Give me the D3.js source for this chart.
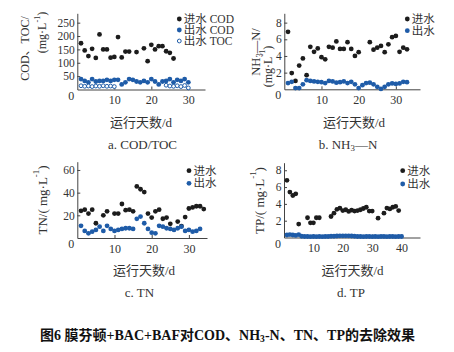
<!DOCTYPE html>
<html><head><meta charset="utf-8">
<script src="https://cdn.jsdelivr.net/npm/d3@7"></script>
<style>body{margin:0;background:#fff}svg{display:block}</style>
</head><body>
<script>
// ---------- data ----------
// a. COD / TOC
const codInDays  = [1,2,3,4,5,6,7,8,9,10,11,12,13,14,16,18,19,20,21,22,23,24,25,26];
const codIn      = [173,146,125,152,118,206,150,150,119,122,196,120,142,142,140,154,106,167,150,162,162,143,137,116];
const codOutDays = [1,2,3,4,5,6,7,8,9,10,11,12,13,14,15,16,17,18,19,20,21,22,23,24,25,26,27,28,29,30];
const codOut     = [39,32,27,39,30,32,32,36,32,36,36,19,27,39,36,30,27,32,27,39,30,19,30,32,39,27,36,32,39,27];
const tocOutDays = [1,2,3,4,5,6,7,8,9,10,24,25,26,27,28,29,30];
const tocOut     = [14,12,13,11,13,12,14,12,13,11,16,13,12,14,11,15,6];
// b. NH3-N
const nhInDays  = [1,2,3,4,5,6,7,8,9,10,11,12,13,14,15,16,17,18,19,20,23,24,25,26,27,28,29,30,31,32,33];
const nhIn      = [6.9,1.95,1.0,2.85,3.7,1.7,5.1,4.5,4.9,3.85,3.6,5.1,5.0,5.75,4.85,4.85,5.65,4.85,4.0,4.45,5.65,4.75,5.0,5.2,4.45,5.4,6.25,6.4,4.5,5.0,4.8];
const nhOutDays = [1,2,3,4,5,6,7,8,9,10,11,12,13,14,15,16,17,18,19,20,21,22,23,24,25,26,27,28,29,30,31,32,33];
const nhOut     = [0.75,0.9,0.15,0.15,0.6,1.1,1.0,0.95,0.9,0.85,0.75,1.0,0.95,0.8,0.85,0.95,0.75,0.9,0.6,0.15,0.5,0.75,0.8,0.6,0.3,0.05,0.3,0.6,0.7,0.65,0.7,0.9,0.85];
// c. TN
const tnInDays  = [1,2,3,4,5,7,8,10,11,12,13,14,15,16,17,18,19,20,21,22,23,24,25,27,28,29,30,31,32,33,34];
const tnIn      = [24,25,21.5,25,13,20,23.5,21.5,21.5,30,24.5,25,23.5,45.5,43,40.5,21.5,18,23.5,25,17,18,12.5,14.5,10.5,18.5,26,27,28,28,25.5];
const tnOutDays = [1,2,3,4,5,6,7,8,9,10,11,12,13,14,15,16,17,18,19,20,21,22,23,24,25,26,27,28,29,30,31,32,33];
const tnOut     = [10.7,6.2,4.1,5.6,7.1,10,6.2,10.7,8,6.2,7.1,8,8.6,8.6,8,16.9,18.9,13,8,4.7,4.1,10.7,10,8.6,8,7.1,8.6,10,6.2,7.1,5.6,6.2,8];
// d. TP
const tpInDays  = [1,2,3,4,5,8,9,10,11,12,16,17,18,19,20,21,22,23,24,25,26,27,28,29,30,32,34,35,36,37,38,39];
const tpIn      = [6.8,5.4,5.0,5.2,1.6,2.35,1.75,1.75,2.35,2.35,2.5,2.9,3.35,3.5,3.2,3.3,3.1,3.25,3.15,3.2,3.3,3.45,3.6,3.15,3.15,2.3,2.9,3.5,3.4,3.6,3.7,3.2];
const tpOutDays = [1,2,3,4,5,6,7,8,9,10,11,12,13,14,15,16,17,18,19,20,21,22,23,24,25,26,27,28,29,30,31,32,33,34,35,36,37,38,39,40];
const tpOut     = [0.3,0.35,0.3,0.25,0.35,0.15,0.12,0.12,0.1,0.12,0.1,0.12,0.1,0.12,0.12,0.15,0.15,0.18,0.2,0.2,0.2,0.2,0.18,0.15,0.12,0.12,0.1,0.12,0.12,0.1,0.12,0.1,0.12,0.12,0.1,0.12,0.12,0.1,0.12,0.12];

// tick labels
const xTicksABC = [10,20,30];
const xTicksD   = [10,20,30,40];
const yTicksA = [50,100,150,200,250];
const yTicksB = [2,4,6,8];
const yTicksC = [20,40,60];
const yTicksD = [2,4,6,8];

// legend labels
const legendA = ["进水 COD","出水 COD","出水 TOC"];
const legendIO = ["进水","出水"];

// ---------- drawing ----------
const FONT = "'Liberation Serif','Noto Sans CJK SC',serif";
const BLACK = "#1c1c1c", BLUE = "#1f5ca8", AX = "#444", TXT = "#333";
const svg = d3.select("body").append("svg").attr("width",454).attr("height",352)
  .style("font-family",FONT);

function rich(sel, segs, size){
  let shift = 0;
  segs.forEach(([t,m])=>{
    const ts = sel.append("tspan").text(t);
    let target = m==="sup" ? -0.45 : m==="sub" ? 0.3 : 0;
    const d = target - shift;
    if (d!==0) ts.attr("dy", (d*size).toFixed(2));
    if (m) ts.attr("font-size", size*0.68);
    shift = target;
  });
}

function panel(cfg){
  const x = d3.scaleLinear().domain(cfg.xd).range(cfg.xr);
  const y = d3.scaleLinear().domain(cfg.yd).range(cfg.yr);
  const gx = svg.append("g").attr("transform",`translate(0,${cfg.yr[0]})`)
    .call(d3.axisBottom(x).tickValues(cfg.xt).tickSizeInner(-3).tickSizeOuter(0).tickPadding(6).tickFormat(d3.format("d")));
  gx.attr("font-family",FONT).attr("font-size",12);
  const gy = svg.append("g").attr("transform",`translate(${cfg.xr[0]},0)`)
    .call(d3.axisLeft(y).tickValues(cfg.yt).tickSizeInner(-3).tickSizeOuter(0).tickPadding(2.5).tickFormat(d3.format("d")));
  gy.attr("font-family",FONT).attr("font-size",11.5);
  [gx,gy].forEach(g=>{
    g.select(".domain").attr("stroke",AX).attr("stroke-width",1);
    g.selectAll(".tick line").attr("stroke",AX);
    g.selectAll(".tick text").attr("fill",TXT);
  });
  svg.append("text").attr("x",cfg.xr[0]-3).attr("y",cfg.yr[0]+10).attr("text-anchor","end")
    .attr("font-size",12).attr("fill",TXT).text("0");
  cfg.series.forEach(s=>{
    svg.append("g").selectAll("circle").data(s.days.map((d,i)=>[d,s.vals[i]])).join("circle")
      .attr("cx",d=>x(d[0])).attr("cy",d=>y(d[1])).attr("r",s.hollow?1.9:2.4)
      .attr("fill",s.hollow?"#fff":s.color)
      .attr("stroke",s.hollow?s.color:"none").attr("stroke-width",1);
  });
  cfg.legend.items.forEach((it,i)=>{
    const yy = cfg.legend.ys[i];
    svg.append("circle").attr("cx",cfg.legend.x).attr("cy",yy).attr("r",it.hollow?1.9:2.4)
      .attr("fill",it.hollow?"#fff":it.color).attr("stroke",it.hollow?it.color:"none");
    svg.append("text").attr("x",cfg.legend.x+4.5).attr("y",yy).attr("dominant-baseline","central")
      .attr("font-size",11.5).attr("fill",TXT).text(it.label);
  });
  cfg.ylab.forEach(l=>{
    const t = svg.append("text").attr("transform",`translate(${l.x},${l.y}) rotate(-90)`)
      .attr("text-anchor","middle").attr("dominant-baseline","central").attr("font-size",l.size||12).attr("fill",TXT);
    rich(t,l.segs,l.size||12);
  });
  svg.append("text").attr("x",cfg.xlab[0]).attr("y",cfg.xlab[1]).attr("text-anchor","middle")
    .attr("dominant-baseline","central").attr("font-size",13).attr("fill",TXT).text("运行天数/d");
  const cap = svg.append("text").attr("x",cfg.cap[0]).attr("y",cfg.cap[1]).attr("text-anchor","middle")
    .attr("dominant-baseline","central").attr("font-size",13).attr("fill",TXT);
  rich(cap,cfg.capSegs,13);
}

panel({
  xd:[0,34.5], xr:[77.3,205], yd:[0,285], yr:[89.5,13.3], xt:xTicksABC, yt:yTicksA,
  series:[
    {days:codInDays, vals:codIn, color:BLACK},
    {days:codOutDays, vals:codOut, color:BLUE},
    {days:tocOutDays, vals:tocOut, color:BLUE, hollow:true}],
  legend:{x:179.3, ys:[19,30,41], items:[
    {label:legendA[0],color:BLACK},{label:legendA[1],color:BLUE},{label:legendA[2],color:BLUE,hollow:true}]},
  ylab:[{x:25,y:48.5,segs:[["COD、TOC/",""]]},{x:42,y:32.5,segs:[["(mg·L",""],["-1","sup"],[")",""]]}],
  xlab:[141,122.7], cap:[142.5,144.3], capSegs:[["a. COD/TOC",""]]
});
panel({
  xd:[0,36.5], xr:[284.3,420], yd:[0,9.12], yr:[89.3,13.3], xt:xTicksABC, yt:yTicksB,
  series:[
    {days:nhInDays, vals:nhIn, color:BLACK},
    {days:nhOutDays, vals:nhOut, color:BLUE}],
  legend:{x:407.3, ys:[19,30.7], items:[{label:legendIO[0],color:BLACK},{label:legendIO[1],color:BLUE}]},
  ylab:[{x:255.5,y:52,size:12.5,segs:[["NH",""],["3","sub"],["—N/",""]]},{x:267.7,y:66.5,segs:[["(mg·L",""],["-1","sup"],[")",""]]}],
  xlab:[354,122.7], cap:[348,144.3], capSegs:[["b. NH",""],["3","sub"],["—N",""]]
});
panel({
  xd:[0,34.87], xr:[77.3,207], yd:[0,67.3], yr:[238,161.7], xt:xTicksABC, yt:yTicksC,
  series:[
    {days:tnInDays, vals:tnIn, color:BLACK},
    {days:tnOutDays, vals:tnOut, color:BLUE}],
  legend:{x:189, ys:[170.7,183.3], items:[{label:legendIO[0],color:BLACK},{label:legendIO[1],color:BLUE}]},
  ylab:[{x:41.7,y:200,size:13,segs:[["TN/( mg·L",""],["-1","sup"],[")",""]]}],
  xlab:[144,270], cap:[139.5,291.7], capSegs:[["c. TN",""]]
});
panel({
  xd:[0,46.26], xr:[284,420], yd:[0,8.9], yr:[237.5,162.7], xt:xTicksD, yt:yTicksD,
  series:[
    {days:tpInDays, vals:tpIn, color:BLACK},
    {days:tpOutDays, vals:tpOut, color:BLUE}],
  legend:{x:402.7, ys:[170.7,184], items:[{label:legendIO[0],color:BLACK},{label:legendIO[1],color:BLUE}]},
  ylab:[{x:258.7,y:200.5,size:13,segs:[["TP/( mg·L",""],["-1","sup"],[")",""]]}],
  xlab:[352.5,270], cap:[351,291.7], capSegs:[["d. TP",""]]
});

const title = svg.append("text").attr("x",227.5).attr("y",335).attr("text-anchor","middle")
  .attr("dominant-baseline","central").attr("font-size",14).attr("font-weight","bold").attr("fill","#111");
rich(title,[["图6 膜芬顿+BAC+BAF对COD、NH",""],["3","sub"],["-N、TN、TP的去除效果",""]],14);
</script>
</body></html>
